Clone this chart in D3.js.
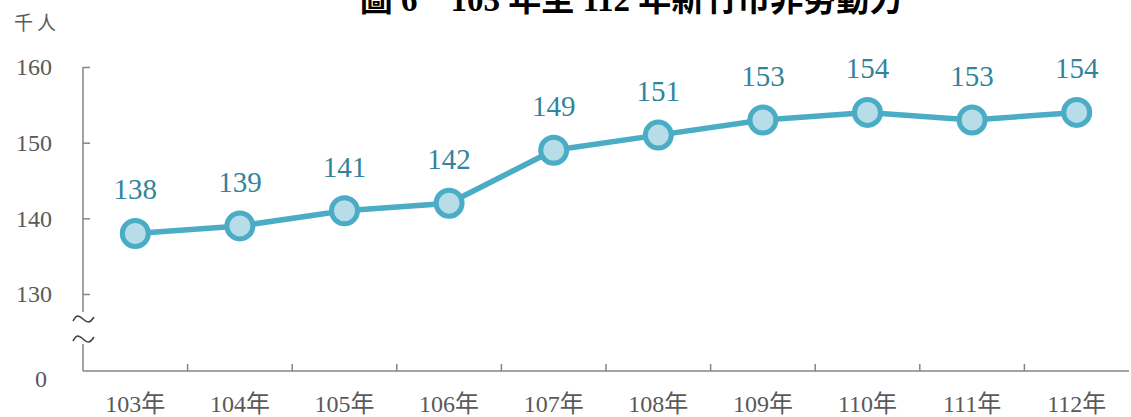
<!DOCTYPE html>
<html>
<head>
<meta charset="utf-8">
<script src="https://cdn.jsdelivr.net/npm/d3@7"></script>
<style>
  body { margin: 0; background: #fff; }
  text { font-family: "Liberation Serif", "Noto Sans CJK TC", serif; }
</style>
</head>
<body>
<svg width="1131" height="417"></svg>
<script>
const svg = d3.select("svg"),
    width = +svg.attr("width"),
    height = +svg.attr("height");

// data
const years = ["103年", "104年", "105年", "106年", "107年", "108年", "109年", "110年", "111年", "112年"];
const values = [138, 139, 141, 142, 149, 151, 153, 154, 153, 154];
const yTicks = [130, 140, 150, 160];

const axisColor = "#858585",
    labelColor = "#595959",
    lineColor = "#4BACC6";

const left = 83, right = 1129, base = 371;

// scales
const x = d3.scaleBand()
    .domain(years)
    .range([left, right]);

const y = d3.scaleLinear()
    .domain([130, 160])
    .range([294, 67]);

// title (cut off at top like the original)
svg.append("text")
    .attr("x", 631)
    .attr("y", 11)
    .attr("text-anchor", "middle")
    .style("font-size", "33px")
    .style("font-weight", "bold")
    .style("fill", "#000")
    .text("圖 6　103 年至 112 年新竹市非勞動力");

// unit
svg.append("text")
    .attr("x", 14)
    .attr("y", 30)
    .style("font-size", "19px")
    .style("letter-spacing", "4px")
    .style("fill", labelColor)
    .text("千人");

// y axis
const yAxis = svg.append("g")
    .attr("transform", `translate(${left},0)`)
    .call(d3.axisLeft(y).tickValues(yTicks).tickSizeInner(-7).tickSizeOuter(0).tickPadding(31));
yAxis.select(".domain").remove();
yAxis.selectAll("line").attr("stroke", axisColor).attr("stroke-width", 1.5);
yAxis.selectAll("text")
    .style("font-size", "24px")
    .style("fill", labelColor)
    .style("font-family", "Liberation Serif, serif");

// y axis line with break
svg.append("line")
    .attr("x1", left).attr("x2", left)
    .attr("y1", y(160)).attr("y2", 312)
    .attr("stroke", axisColor).attr("stroke-width", 1.5);
svg.append("line")
    .attr("x1", left).attr("x2", left)
    .attr("y1", 344).attr("y2", base)
    .attr("stroke", axisColor).attr("stroke-width", 1.5);

const tilde = d3.line().curve(d3.curveBasis);
[319, 339].forEach(function(cy){
    svg.append("path")
        .attr("d", tilde([[73, cy + 2], [77, cy - 5], [83, cy], [89, cy + 5], [94, cy - 2]]))
        .attr("fill", "none")
        .attr("stroke", "#404040")
        .attr("stroke-width", 1.6);
});

svg.append("text")
    .attr("x", left - 36)
    .attr("y", base + 16)
    .attr("text-anchor", "end")
    .style("font-size", "24px")
    .style("fill", labelColor)
    .text("0");

// x axis
svg.append("line")
    .attr("x1", left).attr("x2", right)
    .attr("y1", base).attr("y2", base)
    .attr("stroke", axisColor).attr("stroke-width", 1.5);

svg.append("g")
    .selectAll("line")
    .data(years.slice(1))
    .join("line")
        .attr("x1", d => x(d)).attr("x2", d => x(d))
        .attr("y1", base).attr("y2", base - 7)
        .attr("stroke", axisColor).attr("stroke-width", 1.5);

svg.append("g")
    .selectAll("text")
    .data(years)
    .join("text")
        .attr("x", d => x(d) + x.bandwidth() / 2)
        .attr("y", 412)
        .attr("text-anchor", "middle")
        .style("font-size", "24px")
        .style("fill", labelColor)
        .text(d => d);

// line
const pts = years.map((d, i) => [x(d) + x.bandwidth() / 2, y(values[i])]);

svg.append("path")
    .datum(pts)
    .attr("d", d3.line())
    .style("fill", "none")
    .style("stroke", lineColor)
    .style("stroke-width", 5.5);

svg.append("g")
    .selectAll("circle")
    .data(pts)
    .join("circle")
        .attr("cx", d => d[0])
        .attr("cy", d => d[1])
        .attr("r", 13)
        .attr("fill", "#B7DDE8")
        .attr("stroke", lineColor)
        .attr("stroke-width", 5);

svg.append("g")
    .selectAll("text")
    .data(pts)
    .join("text")
        .attr("x", d => d[0])
        .attr("y", d => d[1] - 34)
        .attr("text-anchor", "middle")
        .style("font-size", "29px")
        .style("fill", "#31849B")
        .text((d, i) => values[i]);
</script>
</body>
</html>
